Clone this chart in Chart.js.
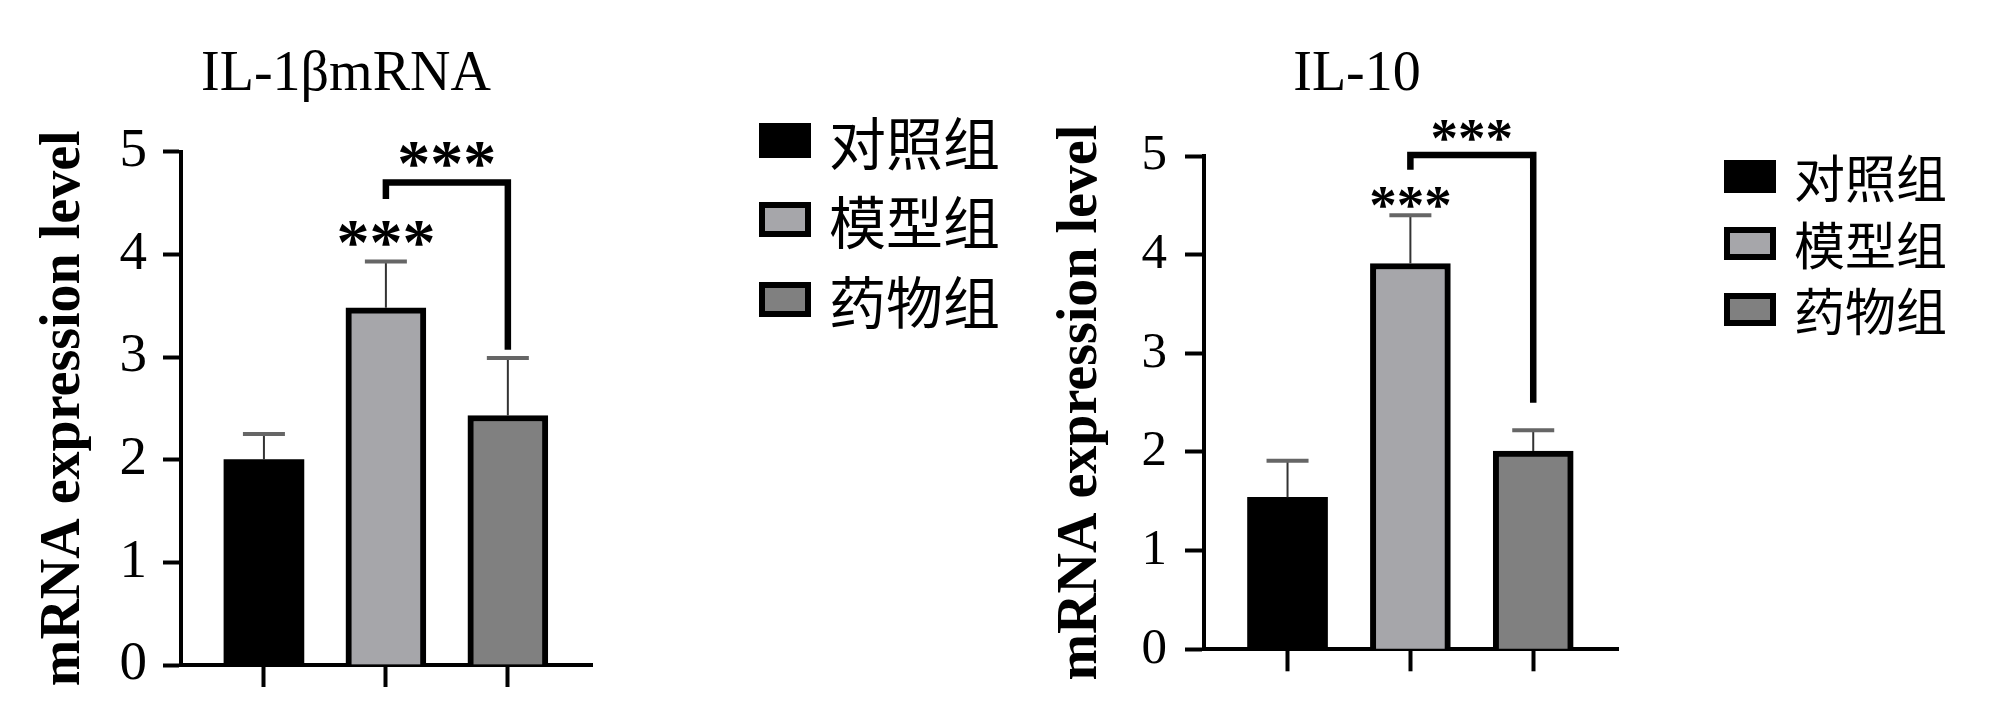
<!DOCTYPE html>
<html>
<head>
<meta charset="utf-8">
<title>IL-1β / IL-10 mRNA</title>
<script src="https://cdn.jsdelivr.net/npm/chart.js@4.4.1/dist/chart.umd.min.js"></script>
<style>
  html, body { margin: 0; padding: 0; background: #fff; }
  body { position: relative; width: 2000px; height: 722px; overflow: hidden; }
  canvas { position: absolute; top: 0; }
  .title { position: absolute; top: 43px; font: 56px/56px "Liberation Serif", serif; color: #000; white-space: nowrap; transform: translateX(-50%); }
  .legend { position: absolute; margin: 0; padding: 0; list-style: none; font-family: "Noto Sans CJK SC", sans-serif; color: #000; }
  .legend li { display: flex; align-items: center; white-space: nowrap; }
  .legend .box { box-sizing: border-box; width: 52px; margin-right: 18px; }
</style>
</head>
<body>
<canvas id="il1b" width="700" height="722" style="left:0"></canvas>
<canvas id="il10" width="700" height="722" style="left:1000px"></canvas>
<div class="title" style="left:346px">IL-1βmRNA</div>
<div class="title" style="left:1357px">IL-10</div>
<ul class="legend" id="il1b-legend" style="left:759px;top:112px;font-size:57px;line-height:57px"></ul>
<ul class="legend" id="il10-legend" style="left:1724px;top:151px;font-size:51px;line-height:51px"></ul>
<script>
// groups on the x axis
const groups = ['对照组', '模型组', '药物组'];
const groupX = [1, 2, 3];
const yTicks = [0, 1, 2, 3, 4, 5];

// IL-1β mRNA
const il1bMean = [2.00, 3.48, 2.43];
const il1bErr = [0.25, 0.45, 0.56];
const il1bBracket = [4.70, 4.54, 3.07];   // top, left end, right end
const il1bStars = [4.97, 4.20];            // over bracket, over 模型组

// IL-10
const il10Mean = [1.54, 3.91, 2.01];
const il10Err = [0.37, 0.49, 0.21];
const il10Bracket = [5.01, 4.86, 2.50];
const il10Stars = [5.26, 4.58];

const fills = ['#000000', '#a6a6aa', '#808080'];

// error bars + significance bracket
const sigPlugin = {
  id: 'sig',
  afterDatasetsDraw(chart, args, opts) {
    const ctx = chart.ctx, y = chart.scales.y;
    ctx.save();
    chart.data.datasets.forEach((ds, i) => {
      const bar = chart.getDatasetMeta(i).data[0];
      const top = y.getPixelForValue(opts.mean[i] + opts.err[i]);
      ctx.strokeStyle = '#333';
      ctx.lineWidth = 2;
      ctx.beginPath(); ctx.moveTo(bar.x, bar.y); ctx.lineTo(bar.x, top); ctx.stroke();
      ctx.strokeStyle = '#666';
      ctx.lineWidth = 4;
      ctx.beginPath(); ctx.moveTo(bar.x - 21, top); ctx.lineTo(bar.x + 21, top); ctx.stroke();
    });
    ctx.restore();
  },
  afterDraw(chart, args, opts) {
    const ctx = chart.ctx, x = chart.scales.x, y = chart.scales.y;
    const x1 = x.getPixelForValue(groupX[1]), x2 = x.getPixelForValue(groupX[2]);
    const b = opts.bracket;
    ctx.save();
    ctx.strokeStyle = '#000';
    ctx.lineWidth = 6.5;
    ctx.lineJoin = 'miter';
    ctx.beginPath();
    ctx.moveTo(x1, y.getPixelForValue(b[1]));
    ctx.lineTo(x1, y.getPixelForValue(b[0]));
    ctx.lineTo(x2, y.getPixelForValue(b[0]));
    ctx.lineTo(x2, y.getPixelForValue(b[2]));
    ctx.stroke();
    ctx.font = `bold ${opts.starSize}px "Liberation Serif"`;
    ctx.fillStyle = '#000';
    ctx.textAlign = 'center';
    const m = ctx.measureText('***');
    const shift = (m.actualBoundingBoxAscent - m.actualBoundingBoxDescent) / 2;
    ctx.fillText('***', (x1 + x2) / 2, y.getPixelForValue(opts.stars[0]) + shift);
    ctx.fillText('***', x1, y.getPixelForValue(opts.stars[1]) + shift);
    ctx.restore();
  }
};

function makeChart(id, mean, err, bracket, stars, o) {
  return new Chart(document.getElementById(id), {
    type: 'bar',
    data: {
      datasets: groups.map((g, i) => ({
        label: g,
        data: [{ x: groupX[i], y: mean[i] }],
        backgroundColor: fills[i],
        borderColor: '#000',
        borderWidth: i === 0 ? 0 : 6,
        barThickness: 80,
        grouped: false
      }))
    },
    options: {
      responsive: false,
      animation: false,
      events: [],
      layout: { padding: o.padding },
      plugins: {
        legend: { display: false },
        tooltip: { enabled: false },
        sig: { mean, err, bracket, stars, starSize: o.starSize }
      },
      scales: {
        x: {
          type: 'linear', min: 0.32, max: 3.69, offset: false, z: 1,
          afterBuildTicks: s => { s.ticks = groupX.map(v => ({ value: v })); },
          ticks: { display: false },
          grid: { offset: false, drawOnChartArea: false, tickLength: 22, tickWidth: 4, tickColor: '#000', color: '#000' },
          border: { color: '#000', width: 4 }
        },
        y: {
          min: 0, max: 5,
          afterBuildTicks: s => { s.ticks = yTicks.map(v => ({ value: v })); },
          ticks: { color: '#000', padding: o.tickPad, font: { family: 'Liberation Serif', size: o.tickSize } },
          grid: { drawOnChartArea: false, tickLength: o.tickLen, tickWidth: 4, tickColor: '#000', color: '#000' },
          border: { color: '#000', width: 4 },
          title: {
            display: true, text: 'mRNA expression level', color: '#000',
            font: { family: 'Liberation Serif', size: 56, weight: 'bold', lineHeight: 1 },
            padding: o.titlePad
          }
        }
      }
    },
    plugins: [sigPlugin]
  });
}

// html legend from the chart's datasets
function buildLegend(chart, id, gap, boxH) {
  const ul = document.getElementById(id);
  const sets = chart.data.datasets;
  sets.forEach((ds, i) => {
    const li = document.createElement('li');
    if (i < sets.length - 1) li.style.marginBottom = gap + 'px';
    const box = document.createElement('span');
    box.className = 'box';
    box.style.height = boxH + 'px';
    box.style.background = ds.backgroundColor;
    box.style.border = `${ds.borderWidth ? 6.5 : 0}px solid ${ds.borderColor}`;
    const txt = document.createElement('span');
    txt.textContent = ds.label;
    li.append(box, txt);
    ul.appendChild(li);
  });
}

const c1 = makeChart('il1b', il1bMean, il1bErr, il1bBracket, il1bStars, {
  padding: { left: 10, top: 151.7, right: 108, bottom: 35 },
  tickSize: 55, tickPad: 16, tickLen: 18, titlePad: { top: 27, bottom: 10.5 }, starSize: 66
});
const c2 = makeChart('il10', il10Mean, il10Err, il10Bracket, il10Stars, {
  padding: { left: 10, top: 156, right: 82, bottom: 50.7 },
  tickSize: 51, tickPad: 18, tickLen: 19, titlePad: { top: 44, bottom: 13.5 }, starSize: 55
});
buildLegend(c1, 'il1b-legend', 22.3, 35);
buildLegend(c2, 'il10-legend', 15.6, 33);
</script>
</body>
</html>
